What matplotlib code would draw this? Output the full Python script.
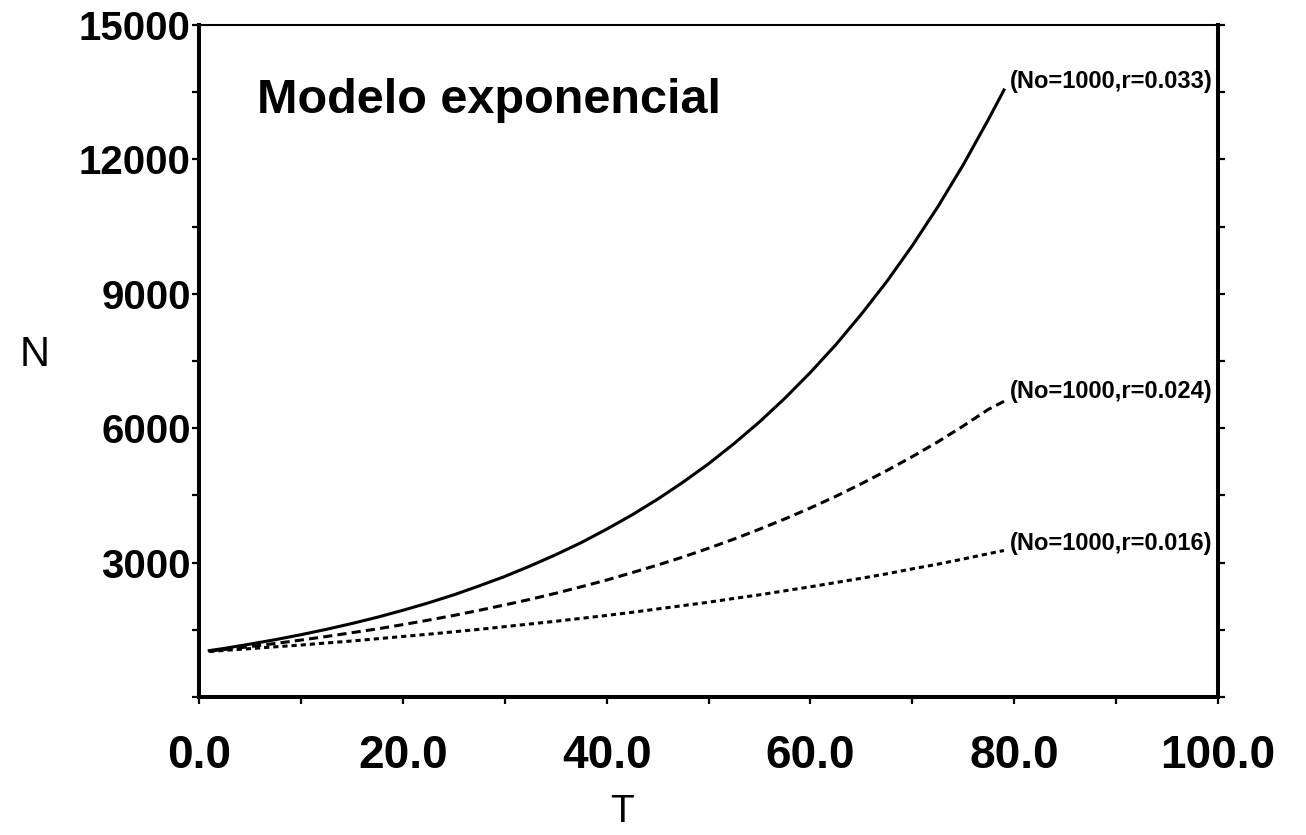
# _*_ coding: utf-8 _*_

"""
Draw exponential growth model curves.
"""

import matplotlib
matplotlib.use('Agg')
import matplotlib.pyplot as plt
from matplotlib.ticker import FixedLocator, MultipleLocator

# values
t = [1, 2.5, 5, 7.5, 10, 12.5, 15, 17.5, 20, 22.5, 25, 27.5, 30, 32.5, 35,
     37.5, 40, 42.5, 45, 47.5, 50, 52.5, 55, 57.5, 60, 62.5, 65, 67.5, 70,
     72.5, 75, 77.5, 79]
n_033 = [1035, 1085, 1180, 1280, 1390, 1510, 1640, 1780, 1935, 2100, 2280,
         2480, 2690, 2925, 3175, 3445, 3745, 4065, 4415, 4795, 5205, 5655,
         6140, 6670, 7245, 7865, 8545, 9275, 10075, 10940, 11880, 12905,
         13550]
n_024 = [1025, 1060, 1125, 1195, 1270, 1350, 1435, 1520, 1615, 1715, 1820,
         1935, 2055, 2180, 2315, 2460, 2610, 2775, 2945, 3125, 3320, 3525,
         3745, 3975, 4220, 4480, 4760, 5055, 5365, 5695, 6050, 6425, 6600]
n_016 = [1015, 1040, 1080, 1120, 1160, 1205, 1250, 1300, 1350, 1400, 1455,
         1510, 1570, 1630, 1690, 1755, 1820, 1890, 1965, 2040, 2115, 2200,
         2280, 2370, 2460, 2555, 2650, 2750, 2860, 2965, 3080, 3200, 3270]

labels = ['(No=1000,r=0.033)', '(No=1000,r=0.024)', '(No=1000,r=0.016)']
label_y = [13730, 6810, 3415]

xticks = [0, 20, 40, 60, 80, 100]
xticklabels = ['0.0', '20.0', '40.0', '60.0', '80.0', '100.0']
yticks = [0, 3000, 6000, 9000, 12000, 15000]
yticklabels = ['', '3000', '6000', '9000', '12000', '15000']

title = 'Modelo exponencial'


def draw_model(ax):
    """
    Draw the three growth curves with their labels.

    :param ax: `matplotlib.axes.Axes` instance.
    :return: plots dictionary.
    """
    plots = {}
    lw = 2.2
    plots['r033'] = ax.plot(t, n_033, color='k', lw=lw, ls='-')
    plots['r024'] = ax.plot(t, n_024, color='k', lw=lw, ls=(0, (3, 1.7)))
    plots['r016'] = ax.plot(t, n_016, color='k', lw=lw, ls=(0, (1.7, 1.3)))

    # curve labels
    for lab, yy in zip(labels, label_y):
        ax.text(79.6, yy, lab, ha='left', va='center', fontsize=17,
                fontweight='bold', family='Liberation Sans', clip_on=False)

    # title inside axes
    ax.text(0.057, 0.869, title, transform=ax.transAxes, ha='left',
            va='baseline', fontsize=35, fontweight='heavy',
            family='Liberation Sans')
    return plots


fig = plt.figure(figsize=(13.06, 8.35), dpi=100)
ax = fig.add_axes((0.1524, 0.1653, 0.7802, 0.8047))

draw_model(ax)

# axes limits and ticks
ax.set_xlim(0, 100)
ax.set_ylim(0, 15000)
ax.xaxis.set_major_locator(FixedLocator(xticks))
ax.xaxis.set_minor_locator(MultipleLocator(10))
ax.yaxis.set_major_locator(FixedLocator(yticks))
ax.yaxis.set_minor_locator(MultipleLocator(1500))
ax.set_xticklabels(xticklabels, fontsize=33, fontweight='heavy',
                   family='Liberation Sans')
ax.set_yticklabels(yticklabels, fontsize=29, fontweight='bold',
                   family='Liberation Sans')
ax.tick_params(axis='both', which='both', direction='out', length=5,
               width=1.6, color='k')
ax.tick_params(axis='y', which='both', right=True, labelright=False, pad=1)
ax.tick_params(axis='x', which='both', top=False, pad=22)

# frame
for side in ['left', 'right', 'bottom']:
    ax.spines[side].set_linewidth(2.9)
ax.spines['top'].set_linewidth(1.5)

# axis labels
fig.text(35 / 1306, 1 - 355 / 835, 'N', ha='center', va='center',
         fontsize=30, family='Liberation Sans')
fig.text(622 / 1306, 1 - 812 / 835, 'T', ha='center', va='center',
         fontsize=28, family='Liberation Sans')

plt.savefig('out.png', dpi=100)
